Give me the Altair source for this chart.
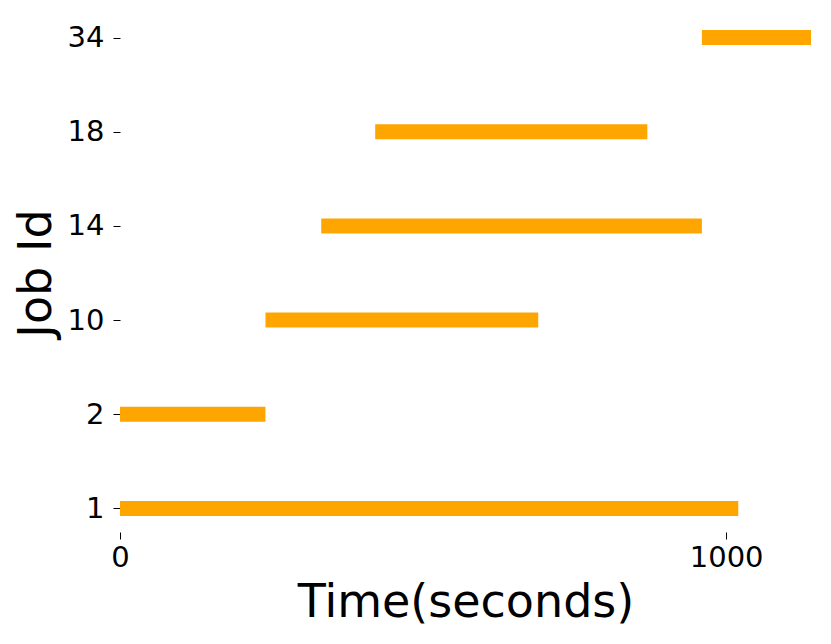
import altair as alt
import pandas as pd

jobs = ["1", "2", "10", "14", "18", "34"]
starts = [0, 0, 240, 332, 421, 960]
ends = [1020, 240, 690, 960, 870, 1140]

df = pd.DataFrame({"job": jobs, "start": starts, "end": ends})

font = "DejaVu Sans"

chart = alt.Chart(df).mark_bar(size=15, color="#FFA500").encode(
    x=alt.X("start:Q",
            scale=alt.Scale(domain=[0, 1140], nice=False, zero=False),
            axis=alt.Axis(title="Time(seconds)", values=[0, 1000], format="d", grid=False,
                          domain=False, tickSize=7, tickColor="black",
                          labelFontSize=29, labelFont=font, labelColor="black",
                          labelPadding=4, labelFlush=False,
                          titleFontSize=46, titleFont=font, titleFontWeight="normal",
                          titleColor="black", titlePadding=8)),
    x2="end:Q",
    y=alt.Y("job:O",
            scale=alt.Scale(type="point", domain=list(reversed(jobs)), padding=0.25),
            axis=alt.Axis(title="Job Id", grid=False, domain=False, tickSize=7,
                          tickColor="black", labelFontSize=29, labelFont=font,
                          labelColor="black", labelPadding=9,
                          titleFontSize=46, titleFont=font, titleFontWeight="normal",
                          titleColor="black", titlePadding=7)),
).properties(
    width=691, height=518,
    autosize=alt.AutoSizeParams(type="none"),
    padding={"left": 112, "top": 6, "right": 5, "bottom": 100},
).configure_view(stroke=None)

chart.save("out.html", embed_options={"renderer": "svg", "actions": False})
